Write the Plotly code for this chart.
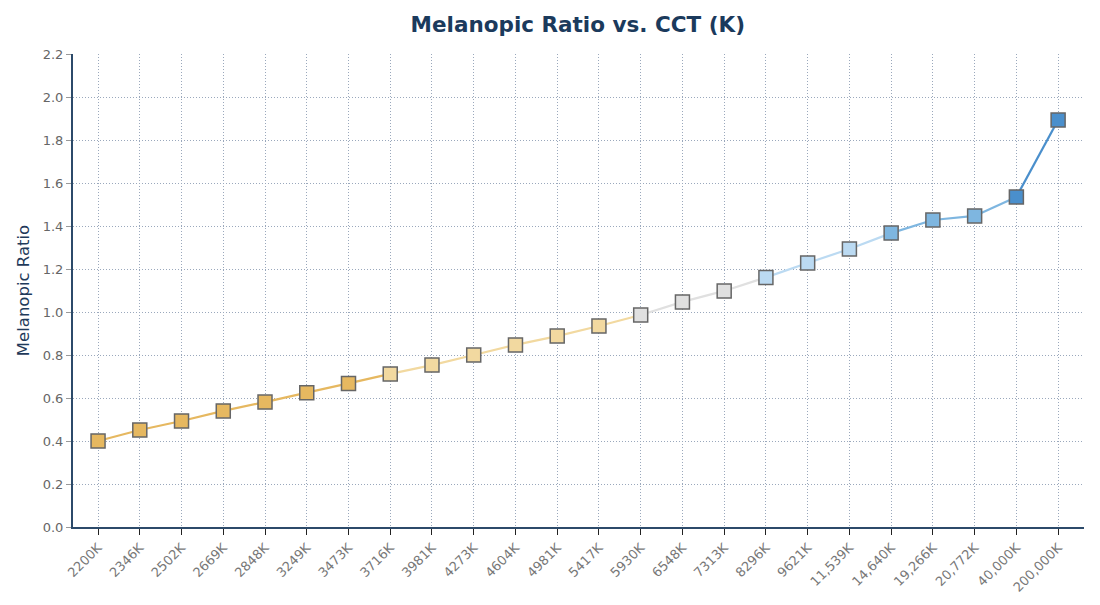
import plotly.graph_objects as go

cct_labels = ['2200K', '2346K', '2502K', '2669K', '2848K', '3249K', '3473K', '3716K',
              '3981K', '4273K', '4604K', '4981K', '5417K', '5930K', '6548K', '7313K',
              '8296K', '9621K', '11,539K', '14,640K', '19,266K', '20,772K', '40,000K',
              '200,000K']
melanopic_ratio = [0.400, 0.451, 0.493, 0.540, 0.581, 0.625, 0.668, 0.712,
                   0.753, 0.800, 0.847, 0.888, 0.935, 0.986, 1.047, 1.098,
                   1.161, 1.228, 1.293, 1.367, 1.428, 1.447, 1.535, 1.893]
point_colors = ['#E6B860'] * 7 + ['#F2D9A0'] * 6 + ['#E0E0E0'] * 3 + \
               ['#BBDAF2'] * 3 + ['#7EB6E0'] * 3 + ['#4A8FCC'] * 2

fig = go.Figure()

# one segment per pair, coloured like its starting point
for i in range(len(cct_labels) - 1):
    fig.add_trace(go.Scatter(
        x=cct_labels[i:i + 2], y=melanopic_ratio[i:i + 2], mode='lines',
        line=dict(color=point_colors[i], width=2.2), showlegend=False, hoverinfo='skip'))

fig.add_trace(go.Scatter(
    x=cct_labels, y=melanopic_ratio, mode='markers',
    marker=dict(symbol='square', size=14, color=point_colors,
                line=dict(color='#666666', width=1.5)),
    showlegend=False))

fig.update_layout(
    width=1100, height=605,
    margin=dict(l=65, r=24, t=46, b=86),
    paper_bgcolor='white', plot_bgcolor='white',
    font=dict(family='DejaVu Sans', color='#666666', size=13),
    title=dict(text='<b>Melanopic Ratio vs. CCT (K)</b>', x=0.518, xanchor='center',
               y=0.972, yanchor='middle',
               font=dict(size=21.5, color='#1B3A5C', family='DejaVu Sans')),
)
fig.update_xaxes(
    type='category', range=[-0.6, 23.62], tickangle=-45, automargin=False,
    showline=True, linecolor='#2C4A6A', linewidth=2,
    ticks='outside', tickcolor='#222222', ticklen=6,
    showgrid=True, gridcolor='#9AA8BC', griddash='1px,2px', gridwidth=1,
    tickfont=dict(size=13, color='#777777'))
fig.update_yaxes(
    range=[0, 2.2], dtick=0.2, tickformat='.1f', automargin=False,
    showline=True, linecolor='#2C4A6A', linewidth=2,
    ticks='outside', tickcolor='#999999', ticklen=5,
    showgrid=True, gridcolor='#9AA8BC', griddash='1px,2px', gridwidth=1,
    zeroline=False,
    title=dict(text='Melanopic Ratio', font=dict(size=16.5, color='#1F3A5A'), standoff=9),
    tickfont=dict(size=13, color='#666666'))

fig.write_html("out.html")
